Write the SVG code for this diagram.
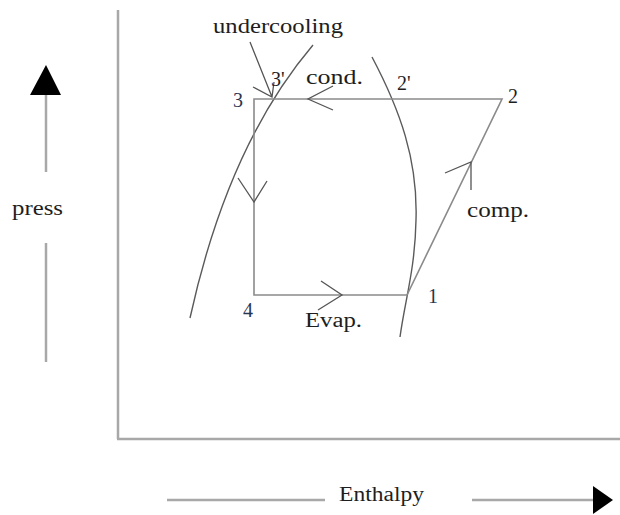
<svg xmlns="http://www.w3.org/2000/svg" width="620" height="515" viewBox="0 0 620 515">
<style>
.ax{stroke:#a8a8a8;stroke-width:2.5;fill:none}
.cy{stroke:#8a8a8a;stroke-width:1.6;fill:none}
.cv{stroke:#5a5a5a;stroke-width:1.4;fill:none}
.ar{stroke:#555;stroke-width:1.3;fill:none}
.t{font-family:"Liberation Serif","Times New Roman",serif;font-size:20px;fill:#1e1e1e}
.n{font-family:"Liberation Serif","Times New Roman",serif;font-size:20px;fill:#2a3550}
</style>
<rect width="620" height="515" fill="#fff"/>
<g id="axes">
<line class="ax" x1="118" y1="10" x2="118" y2="439"/>
<line class="ax" x1="117" y1="439" x2="620" y2="439"/>
</g>
<g id="press-axis">
<line class="ax" x1="46" y1="94" x2="46" y2="172" stroke-width="2"/>
<line class="ax" x1="46" y1="243" x2="46" y2="362" stroke-width="2"/>
<polygon points="46,65 61,95 30,95" fill="#000"/>
<text class="t" x="12" y="215" textLength="51" lengthAdjust="spacingAndGlyphs">press</text>
</g>
<g id="enthalpy-axis">
<line class="ax" x1="167" y1="500" x2="325" y2="500" stroke-width="2"/>
<line class="ax" x1="472" y1="500" x2="595" y2="500" stroke-width="2"/>
<polygon points="593,486 613,500 593,514" fill="#000"/>
<text class="t" x="339" y="501" textLength="85" lengthAdjust="spacingAndGlyphs">Enthalpy</text>
</g>
<g id="curves">
<path id="liquid-line" class="cv" d="M313,45 Q228,145 190,318"/>
<path id="vapour-line" class="cv" d="M372,57 C400,110 418,160 416,220 C415,270 405,300 400,337"/>
</g>
<g id="connectors">
<path id="cycle" class="cy" d="M254,99 L502,99 L407,295 L254,295 Z"/>
<path class="ar" d="M333,86 L308,99 L333,110"/>
<path class="ar" d="M238,178 L254,202 L267,181"/>
<path class="ar" d="M321,281 L342,295 L318,310"/>
<path class="ar" d="M445,173 L471,162 L471,190"/>
<path class="ar" d="M250,42 L272,97 M253,87 L272,97 L274,82"/>
</g>
<g id="labels">
<text class="t" x="213" y="33" textLength="130" lengthAdjust="spacingAndGlyphs">undercooling</text>
<text class="t" x="271" y="86">3'</text>
<text class="t" x="306" y="84" textLength="57" lengthAdjust="spacingAndGlyphs">cond.</text>
<text class="t" x="397" y="90">2'</text>
<text class="t" x="508" y="103">2</text>
<text class="n" x="233" y="107">3</text>
<text class="n" x="243" y="317">4</text>
<text class="n" x="428" y="303">1</text>
<text class="t" x="305" y="327" textLength="57" lengthAdjust="spacingAndGlyphs">Evap.</text>
<text class="t" x="467" y="217" textLength="62" lengthAdjust="spacingAndGlyphs">comp.</text>
</g>
</svg>
